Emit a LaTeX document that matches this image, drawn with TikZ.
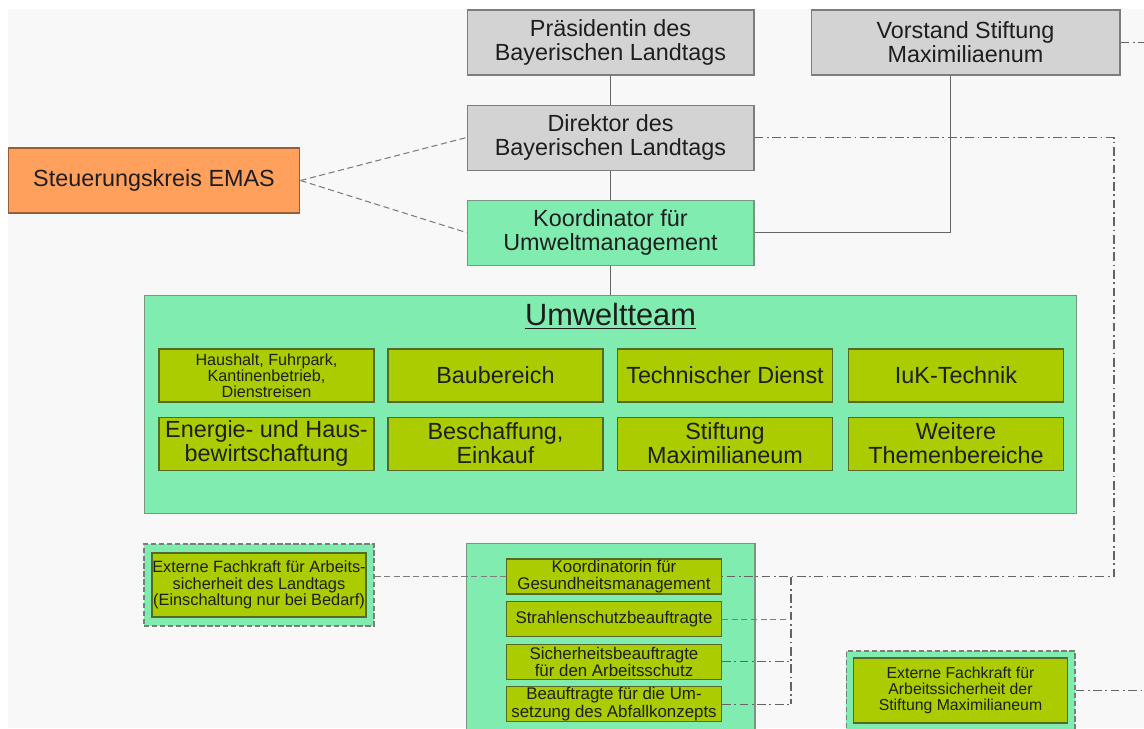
\documentclass[tikz,border=0pt]{standalone}
\usepackage{fontspec}
\setmainfont{Liberation Sans}
\usetikzlibrary{positioning}

\definecolor{bgcol}{RGB}{248,248,248}
\definecolor{greyfill}{RGB}{211,211,211}
\definecolor{greyline}{RGB}{125,125,125}
\definecolor{orangefill}{RGB}{255,160,92}
\definecolor{orangeline}{RGB}{150,95,60}
\definecolor{mintfill}{RGB}{128,236,176}
\definecolor{mintline}{RGB}{120,150,130}
\definecolor{olivefill}{RGB}{170,204,0}
\definecolor{oliveline}{RGB}{85,105,40}
\definecolor{textcol}{RGB}{30,30,30}
\definecolor{linkcol}{RGB}{100,100,100}

\tikzset{
  box/.style={rectangle, draw, line width=0.6pt, inner sep=0pt, align=center,
    text=textcol, font=\fontsize{13.3}{13.6}\selectfont},
  greybox/.style={box, fill=greyfill, draw=greyline, minimum width=5.74cm, minimum height=1.3cm},
  orangebox/.style={box, fill=orangefill, draw=orangeline, minimum width=5.84cm, minimum height=1.3cm},
  mintbox/.style={box, fill=mintfill, draw=mintline},
  themebox/.style={box, fill=olivefill, draw=oliveline, minimum width=4.3cm, minimum height=1.06cm},
  dutybox/.style={box, fill=olivefill, draw=oliveline, minimum width=4.3cm, minimum height=0.7cm,
    font=\fontsize{9.6}{9.8}\selectfont},
  extframe/.style={rectangle, fill=mintfill, draw=greyline, line width=0.6pt,
    dash pattern=on 3pt off 1.5pt},
  solidlink/.style={draw=linkcol, line width=0.6pt},
  dashlink/.style={draw=greyline, line width=0.6pt, dash pattern=on 3.5pt off 2pt},
  dotlink/.style={draw=linkcol, line width=0.6pt, dash pattern=on 5pt off 2pt on 1pt off 2pt},
}

\begin{document}
\begin{tikzpicture}[x=0.02cm, y=-0.02cm, node distance=0.58cm]
  \useasboundingbox (0,0) rectangle (1144,728);
  \fill[white] (0,0) rectangle (1144,728);
  \fill[bgcol] (8,9) rectangle (1144,728);

  % Leitung
  \node[greybox] (praesidentin) at (610.5,42.5) {Präsidentin des\\Bayerischen Landtags};
  \node[greybox, minimum width=6.18cm] (vorstand) at (965.5,42.5) {Vorstand Stiftung\\Maximiliaenum};
  \node[greybox] (direktor) [below=of praesidentin] {Direktor des\\Bayerischen Landtags};
  \node[mintbox, minimum width=5.74cm, minimum height=1.3cm] (koordinator) [below=of direktor] {Koordinator für\\Umweltmanagement};
  \node[orangebox] (steuerkreis) at (154,180.5) {Steuerungskreis EMAS};

  % Umweltteam
  \node[mintbox, minimum width=18.66cm, minimum height=4.36cm] (umweltteam) [below=of koordinator] {};
  \node[text=textcol, inner sep=0pt, font=\fontsize{17.5}{18}\selectfont, below=0.16cm of umweltteam.north] (teamtitle) {\underline{Umweltteam}};
  \node[themebox, font=\fontsize{9.2}{9.2}\selectfont] (haushalt) at (266.5,375.5) {Haushalt, Fuhrpark,\\Kantinenbetrieb,\\Dienstreisen};
  \node[themebox] (baubereich) at (495.5,375.5) {Baubereich};
  \node[themebox] (technik) at (725,375.5) {Technischer Dienst};
  \node[themebox] (iuk) at (956,375.5) {IuK-Technik};
  \node[themebox] (energie) [below=0.28cm of haushalt] {Energie- und Haus-\\bewirtschaftung};
  \node[themebox] (beschaffung) [below=0.28cm of baubereich] {Beschaffung,\\Einkauf};
  \node[themebox] (stiftung) [below=0.28cm of technik] {Stiftung\\Maximilianeum};
  \node[themebox] (weitere) [below=0.28cm of iuk] {Weitere\\Themenbereiche};

  % Arbeitsschutz
  \node[mintbox, minimum width=5.78cm, minimum height=3.94cm] (arbeitsschutz) [below=of umweltteam] {};
  \node[dutybox] (gesundheit) at (614,576.5) {Koordinatorin für\\Gesundheitsmanagement};
  \node[dutybox] (strahlen) [below=0.13cm of gesundheit] {Strahlenschutzbeauftragte};
  \node[dutybox] (sicherheit) [below=0.13cm of strahlen] {Sicherheitsbeauftragte\\für den Arbeitsschutz};
  \node[dutybox] (abfall) [below=0.13cm of sicherheit] {Beauftragte für die Um-\\setzung des Abfallkonzepts};

  % externe Fachkraefte
  \node[extframe, minimum width=4.6cm, minimum height=1.64cm] (ltframe) at (259,585) {};
  \node[box, fill=olivefill, draw=oliveline, minimum width=4.28cm, minimum height=1.28cm,
    font=\fontsize{9.3}{9.3}\selectfont] (extlandtag) at (ltframe) {Externe Fachkraft für Arbeits-\\sicherheit des Landtags\\(Einschaltung nur bei Bedarf)};
  \node[extframe, minimum width=4.58cm, minimum height=1.58cm] (stframe) at (960.5,690.5) {};
  \node[box, fill=olivefill, draw=oliveline, minimum width=4.28cm, minimum height=1.3cm,
    font=\fontsize{9}{9.1}\selectfont] (extstiftung) at (stframe) {Externe Fachkraft für\\Arbeitssicherheit der\\Stiftung Maximilianeum};

  \coordinate (bend) at (1114,400);
  \coordinate (bus) at (791,640);
  \coordinate (vorstandout) at (1144,42.5);
  \coordinate (stiftungout) at (1144,690.5);

  % Verbindungen
  \draw[solidlink] (praesidentin) -- (direktor);
  \draw[solidlink] (direktor) -- (koordinator);
  \draw[solidlink] (koordinator) -- (umweltteam);
  \draw[solidlink] ([xshift=-0.3cm]vorstand.south) |- (koordinator.east);
  \draw[dashlink] (steuerkreis.east) -- (direktor.west);
  \draw[dashlink] (steuerkreis.east) -- (koordinator.west);
  \draw[dotlink] (direktor.east) -- (direktor.east -| bend) -- (gesundheit.east -| bend) -- (gesundheit.east);
  \draw[dotlink] (vorstand.east) -- (vorstandout);
  \draw[dotlink] (stframe.east) -- (stiftungout);
  \draw[dashlink] (gesundheit.west -| ltframe.east) -- (gesundheit.west);
  \draw[dotlink] (gesundheit.east -| bus) -- (abfall.east -| bus);
  \draw[dashlink] (strahlen.east) -- (strahlen.east -| bus);
  \draw[dotlink] (sicherheit.east) -- (sicherheit.east -| bus);
  \draw[dotlink] (abfall.east) -- (abfall.east -| bus);
\end{tikzpicture}
\end{document}
